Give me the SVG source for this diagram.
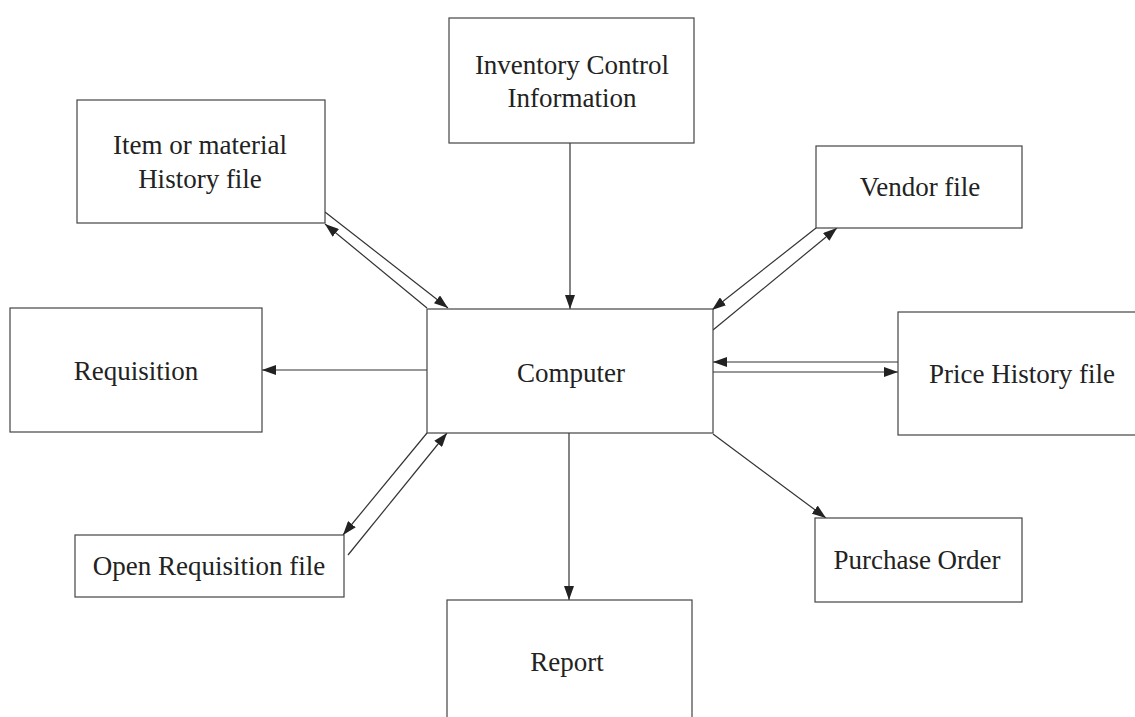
<svg xmlns="http://www.w3.org/2000/svg" width="1135" height="717" viewBox="0 0 1135 717">
<style>
.box{fill:#fff;stroke:#444;stroke-width:1.2}
.lbl{font-family:"Liberation Serif","Times New Roman",serif;font-size:27px;fill:#222;text-anchor:middle}
.con{stroke:#333;stroke-width:1.2;fill:none;marker-end:url(#ah)}
</style>
<defs>
<marker id="ah" markerUnits="userSpaceOnUse" markerWidth="14" markerHeight="10" refX="14" refY="5" orient="auto">
<path d="M0,0 L14,5 L0,10 z" fill="#222"/>
</marker>
</defs>
<rect width="1135" height="717" fill="#fff"/>
<g id="connectors">
<line class="con" x1="570" y1="143" x2="570" y2="309"/>
<line class="con" x1="569" y1="433" x2="569" y2="600"/>
<line class="con" x1="427" y1="308" x2="325" y2="224"/>
<line class="con" x1="325" y1="212" x2="448" y2="308"/>
<line class="con" x1="816" y1="228" x2="712" y2="310"/>
<line class="con" x1="713" y1="330" x2="837" y2="228"/>
<line class="con" x1="898" y1="362" x2="713" y2="362"/>
<line class="con" x1="713" y1="372" x2="898" y2="372"/>
<line class="con" x1="427" y1="370" x2="262" y2="370"/>
<line class="con" x1="427" y1="433" x2="343" y2="535"/>
<line class="con" x1="348" y1="555" x2="447" y2="433"/>
<line class="con" x1="713" y1="434" x2="826" y2="518"/>
</g>
<g id="inventory">
<rect class="box" x="449" y="18" width="245" height="125"/>
<text class="lbl" x="572" y="74">Inventory Control</text>
<text class="lbl" x="572" y="107">Information</text>
</g>
<g id="item">
<rect class="box" x="77" y="100" width="248" height="123"/>
<text class="lbl" x="200" y="154">Item or material</text>
<text class="lbl" x="200" y="188">History file</text>
</g>
<g id="vendor">
<rect class="box" x="816" y="146" width="206" height="82"/>
<text class="lbl" x="920" y="196">Vendor  file</text>
</g>
<g id="requisition">
<rect class="box" x="10" y="308" width="252" height="124"/>
<text class="lbl" x="136" y="380">Requisition</text>
</g>
<g id="computer">
<rect class="box" x="427" y="309" width="286" height="124"/>
<text class="lbl" x="571" y="382">Computer</text>
</g>
<g id="price">
<rect class="box" x="898" y="312" width="245" height="123"/>
<text class="lbl" x="1022" y="383">Price History file</text>
</g>
<g id="openreq">
<rect class="box" x="75" y="535" width="269" height="62"/>
<text class="lbl" x="209" y="575">Open Requisition file</text>
</g>
<g id="purchase">
<rect class="box" x="815" y="518" width="207" height="84"/>
<text class="lbl" x="917" y="569">Purchase Order</text>
</g>
<g id="report">
<rect class="box" x="447" y="600" width="245" height="130"/>
<text class="lbl" x="567" y="671">Report</text>
</g>
</svg>
